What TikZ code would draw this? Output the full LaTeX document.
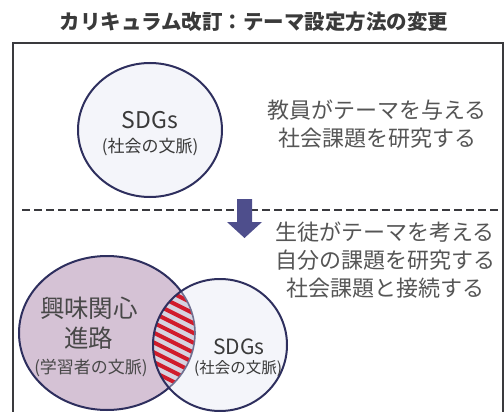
\documentclass[tikz,border=0pt]{standalone}
\usepackage{fontspec}
\setmainfont{Noto Sans CJK JP}
\definecolor{navy}{HTML}{2E2F5E}
\definecolor{txtgray}{HTML}{555555}
\definecolor{titlegray}{HTML}{3A3A3A}
\definecolor{mauve}{HTML}{D5C2D5}
\definecolor{pale}{HTML}{F4F5FA}
\definecolor{lens}{HTML}{D6D3E0}
\definecolor{stripe}{HTML}{D01C2C}
\definecolor{arrowc}{HTML}{4E4E8C}
\definecolor{framec}{HTML}{3A3A3E}
\tikzset{
  txt/.style={inner sep=0pt, align=center, text=txtgray},
  circ/.style={draw=navy, line width=2pt},
}
\begin{document}
\begin{tikzpicture}[x=1pt,y=-1pt]
\useasboundingbox (0,0) rectangle (504,412);
% title
\node[inner sep=0pt, text=titlegray, font=\bfseries\fontsize{20.5}{24}\selectfont] (title) at (254,22) {カリキュラム改訂：テーマ設定方法の変更};
% frame
\draw[framec, line width=2.5pt] (13,430) -- (13,43) -- (503,43) -- (503,430);
% top circle
\draw[circ, fill=pale] (150,130) ellipse [x radius=72pt, y radius=67pt];
\node[txt, text=titlegray, font=\fontsize{23}{26}\selectfont] (sdg1) at (150,120) {SDGs};
\node[txt, text=titlegray, font=\fontsize{17}{20}\selectfont] (ctx1) at (150,147) {(社会の文脈)};
\node[txt, font=\fontsize{22}{28}\selectfont] (t1) at (377,124) {教員がテーマを与える\\社会課題を研究する};
% dashed separator
\coordinate (dl) at (22,210);
\coordinate (dr) at (503,210);
\draw[framec, line width=2.2pt, dash pattern=on 8pt off 4pt] (dl) -- (dr);
% arrow
\fill[arrowc] (237,199) -- (252,199) -- (252,222) -- (262,222) -- (244.5,238) -- (227,222) -- (237,222) -- cycle;
\node[txt, font=\fontsize{22}{28}\selectfont] (t2) at (385,260) {生徒がテーマを考える\\自分の課題を研究する\\社会課題と接続する};
% venn
\draw[circ, fill=mauve] (107,333) ellipse [x radius=88pt, y radius=77pt];
\fill[pale] (220,345) ellipse [x radius=67pt, y radius=66pt];
\begin{scope}
  \clip (107,333) ellipse [x radius=88pt, y radius=77pt];
  \clip (220,345) ellipse [x radius=67pt, y radius=66pt];
  \fill[lens] (140,280) rectangle (210,400);
  \foreach \i in {-8,...,14} {
    \draw[stripe, line width=4pt] (130,262+\i*9.8) -- ++(80,40);
  }
\end{scope}
\begin{scope}
  \clip (220,345) ellipse [x radius=67pt, y radius=66pt];
  \draw[draw=navy!60!lens, line width=1.6pt] (107,333) ellipse [x radius=88pt, y radius=77pt];
\end{scope}
\draw[circ] (220,345) ellipse [x radius=67pt, y radius=66pt];
\node[txt, text=txtgray!85!black, font=\fontsize{24.5}{30}\selectfont] (int) at (89,323) {興味関心\\進路};
\node[txt, text=txtgray!85!black, font=\fontsize{17}{20}\selectfont] (ctx2) at (91,368) {(学習者の文脈)};
\node[txt, text=titlegray, font=\fontsize{21}{24}\selectfont] (sdg2) at (239,347) {SDGs};
\node[txt, text=titlegray, font=\fontsize{15.5}{18}\selectfont] (ctx3) at (238,369) {(社会の文脈)};
\end{tikzpicture}
\end{document}
